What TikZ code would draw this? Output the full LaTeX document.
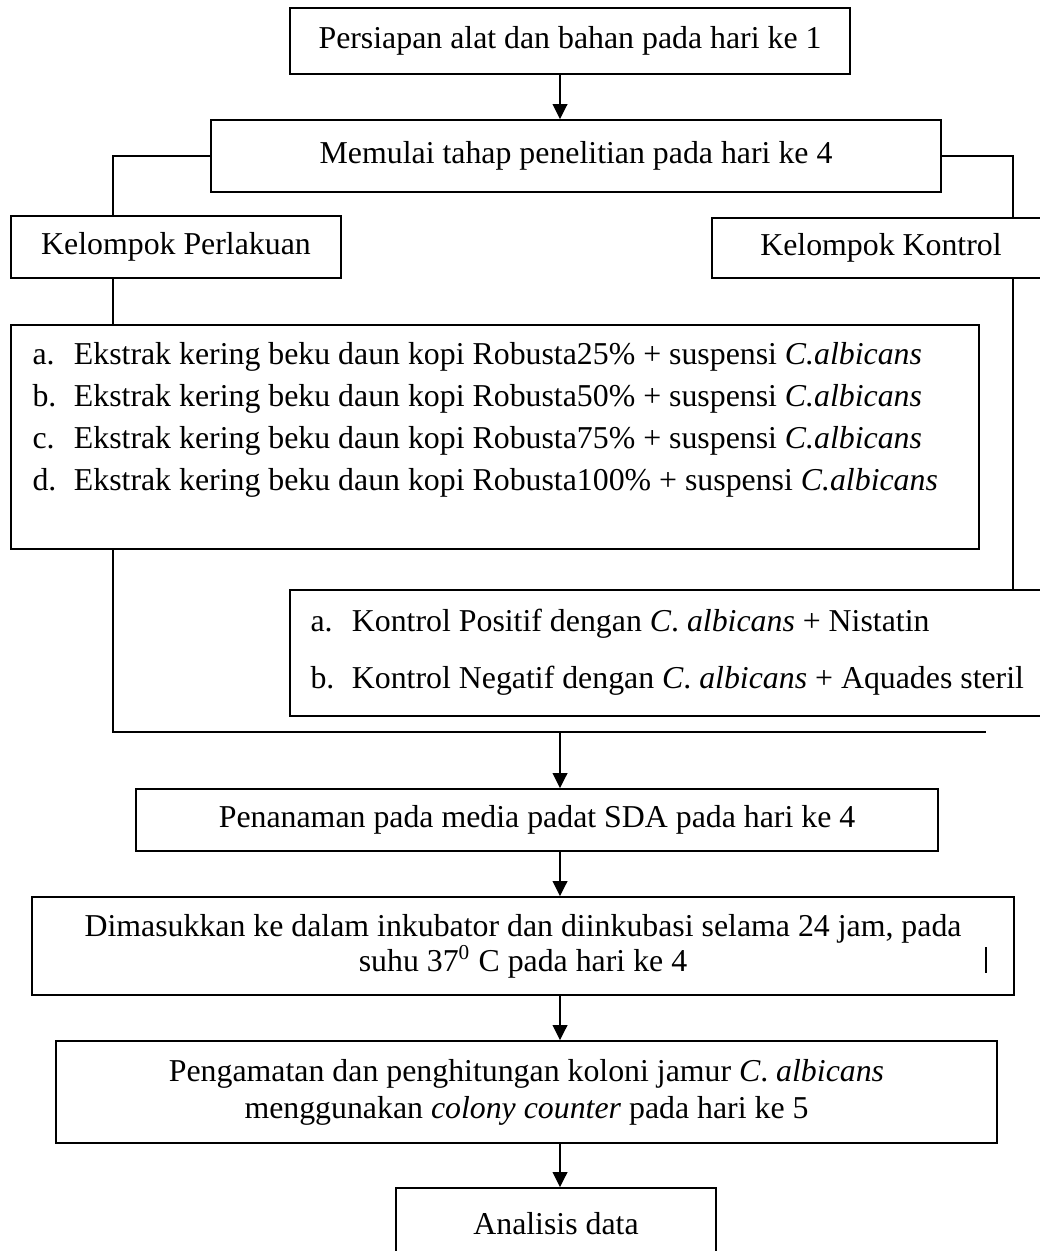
\documentclass[tikz,border=0pt]{standalone}
\usepackage{fontspec}
\setmainfont{Liberation Serif}
\usetikzlibrary{arrows.meta,positioning}
\newcommand{\pxu}{0.377pt}

\begin{document}
\begin{tikzpicture}[x=\pxu, y=-\pxu,
    every node/.style={font=\fontsize{12}{14}\selectfont},
    box/.style={draw, line width=0.65pt, align=center, inner sep=0pt},
    link/.style={line width=0.55pt},
    arr/.style={link, -{Triangle[length=5.7pt,width=5.6pt]}}]

    \useasboundingbox (0,0) rectangle (1039,1251);

    % === helper columns for the connectors ===
    \coordinate (spine) at (560,0);
    \coordinate (lx) at (113,0);
    \coordinate (rx) at (1013,0);
    \coordinate (join) at (986,732);

    % === top of the flow ===
    \node[box, minimum width=560*\pxu, minimum height=66*\pxu] (persiapan) at (570,41)
      {Persiapan alat dan bahan pada hari ke 1};
    \node[box, minimum width=730*\pxu, minimum height=72*\pxu] (mulai) at (576,156)
      {Memulai tahap penelitian pada hari ke 4};

    % === the two groups ===
    \node[box, minimum width=330*\pxu, minimum height=62*\pxu] (perlakuan) at (176,247)
      {Kelompok Perlakuan};
    \node[box, minimum width=338*\pxu, minimum height=60*\pxu] (kontrol) at (881,248)
      {Kelompok Kontrol};

    % --- treatment list ---
    \node[box, minimum width=968*\pxu, minimum height=224*\pxu] (listperl) at (495,437) {};
    \foreach \lab/\pct [count=\i] in {a/25,b/50,c/75,d/100} {
      \node[anchor=base west, inner sep=0pt] (perl-\i) at (32,323+42*\i)
        {\makebox[15.6pt][l]{\lab.}Ekstrak kering beku daun kopi Robusta\pct\% + suspensi \textit{C.albicans}};
    }

    % --- control list ---
    \node[box, minimum width=755*\pxu, minimum height=126*\pxu] (listkon) at (667.5,653) {};
    \node[anchor=base west, inner sep=0pt] (kon-1) at (310,631)
      {\makebox[15.6pt][l]{a.}Kontrol Positif dengan \textit{C}. \textit{albicans} + Nistatin};
    \node[anchor=base west, inner sep=0pt] (kon-2) at (310,688)
      {\makebox[15.6pt][l]{b.}Kontrol Negatif dengan \textit{C}. \textit{albicans} + Aquades steril};

    % === lower steps ===
    \node[box, minimum width=802*\pxu, minimum height=62*\pxu] (penanaman) at (537,820)
      {Penanaman pada media padat SDA pada hari ke 4};
    \node[box, minimum width=982*\pxu, minimum height=98*\pxu,
          font=\fontsize{12}{13.2}\selectfont] (inkubasi) at (523,946)
      {Dimasukkan ke dalam inkubator dan diinkubasi selama 24 jam, pada\\
       suhu 37\textsuperscript{0} C pada hari ke 4};
    \node[box, minimum width=941*\pxu, minimum height=102*\pxu] (pengamatan) at (526.5,1092)
      {Pengamatan dan penghitungan koloni jamur \textit{C}. \textit{albicans}\\
       menggunakan \textit{colony counter} pada hari ke 5};
    \node[box, minimum width=320*\pxu, minimum height=72*\pxu] (analisis) at (556,1224)
      {Analisis data};

    % === connectors ===
    \draw[arr] (persiapan.south -| spine) -- (mulai.north -| spine);
    \draw[link] (mulai.west) -| (perlakuan.north -| lx);
    \draw[link] (mulai.east) -| (kontrol.north -| rx);
    \draw[link] (perlakuan.south -| lx) -- (listperl.north -| lx);
    \draw[link] (kontrol.south -| rx) -- (listkon.north -| rx);
    \draw[link] (listperl.south -| lx) |- (join);
    \draw[arr] (join -| spine) -- (penanaman.north -| spine);
    \draw[arr] (penanaman.south -| spine) -- (inkubasi.north -| spine);
    \draw[arr] (inkubasi.south -| spine) -- (pengamatan.north -| spine);
    \draw[arr] (pengamatan.south -| spine) -- (analisis.north -| spine);

    % stray mark inside the incubation box
    \draw[link] (986,947) -- (986,973);
\end{tikzpicture}
\end{document}
